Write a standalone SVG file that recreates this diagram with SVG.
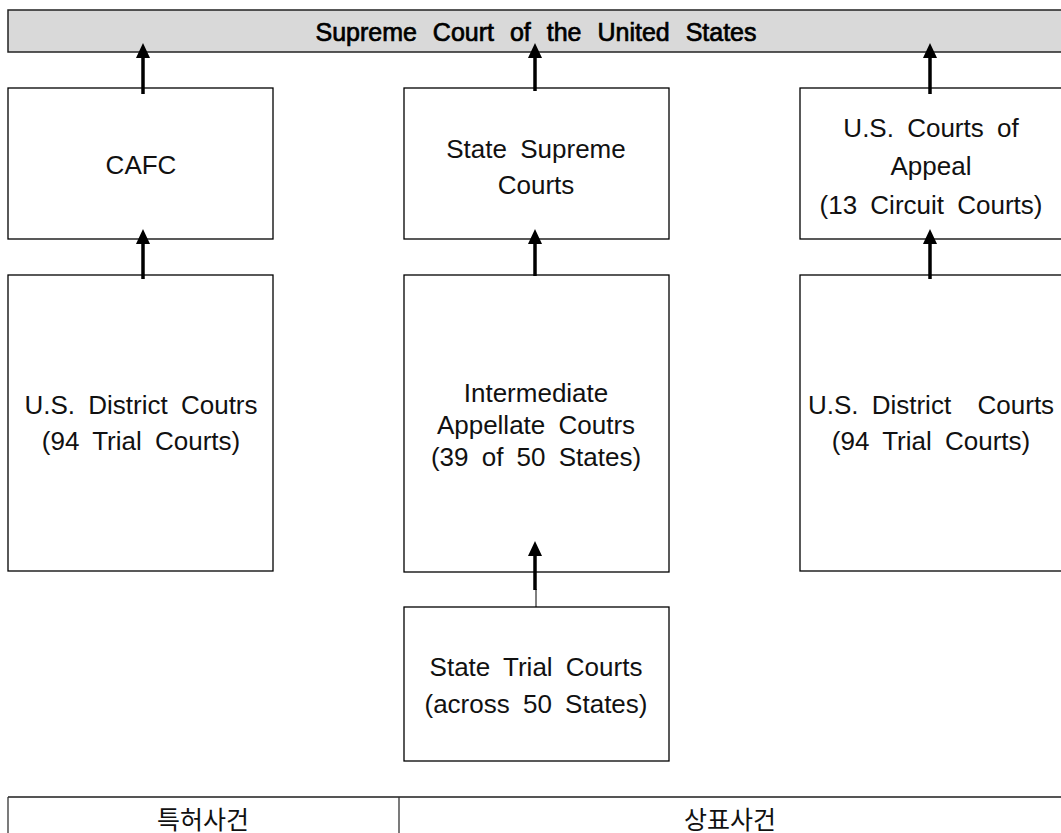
<svg xmlns="http://www.w3.org/2000/svg" width="1061" height="833" viewBox="0 0 1061 833">
<style>
.box{fill:#fff;stroke:#000;stroke-width:1.3}
.t{font-family:"Liberation Sans",Arial,sans-serif;font-size:26px;fill:#111;text-anchor:middle;word-spacing:6px}
.title{font-family:"Liberation Sans",Arial,sans-serif;font-size:25px;fill:#000;stroke:#000;stroke-width:0.7;text-anchor:middle;word-spacing:9px}
.k{font-family:"Liberation Sans","Noto Sans CJK KR",sans-serif;font-size:25px;fill:#111;text-anchor:middle}
.shaft{stroke:#000;stroke-width:3.5;fill:none}
.thin{stroke:#000;stroke-width:1;fill:none}
.head{fill:#000}
</style>
<rect width="1061" height="833" fill="#fff"/>
<g id="supreme">
<rect x="8" y="10" width="1060" height="42" fill="#d9d9d9" stroke="#222" stroke-width="1.5"/>
<text class="title" x="536" y="41">Supreme Court of the United States</text>
</g>
<g id="cafc">
<rect class="box" x="8" y="88" width="265" height="151"/>
<text class="t" x="141" y="174">CAFC</text>
</g>
<g id="district-left">
<rect class="box" x="8" y="275" width="265" height="296"/>
<text class="t" x="141" y="414">U.S. District Coutrs</text>
<text class="t" x="141" y="450">(94 Trial Courts)</text>
</g>
<g id="state-supreme">
<rect class="box" x="404" y="88" width="265" height="151"/>
<text class="t" x="536" y="158">State Supreme</text>
<text class="t" x="536" y="194">Courts</text>
</g>
<g id="intermediate">
<rect class="box" x="404" y="275" width="265" height="297"/>
<text class="t" x="536" y="402">Intermediate</text>
<text class="t" x="536" y="434">Appellate Coutrs</text>
<text class="t" x="536" y="466">(39 of 50 States)</text>
</g>
<g id="state-trial">
<rect class="box" x="404" y="607" width="265" height="154"/>
<text class="t" x="536" y="676">State Trial Courts</text>
<text class="t" x="536" y="713">(across 50 States)</text>
</g>
<g id="appeals">
<rect class="box" x="800" y="88" width="265" height="151"/>
<text class="t" x="931" y="137">U.S. Courts of</text>
<text class="t" x="931" y="175">Appeal</text>
<text class="t" x="931" y="214">(13 Circuit Courts)</text>
</g>
<g id="district-right">
<rect class="box" x="800" y="275" width="265" height="296"/>
<text class="t" x="931" y="414" xml:space="preserve">U.S. District  Courts</text>
<text class="t" x="931" y="450">(94 Trial Courts)</text>
</g>
<g id="connectors">
<line class="shaft" x1="143" y1="94" x2="143" y2="56"/>
<polygon class="head" points="143,43 136,58 150,58"/>
<line class="shaft" x1="143" y1="279" x2="143" y2="242"/>
<polygon class="head" points="143,229 136,244 150,244"/>
<line class="shaft" x1="535" y1="91" x2="535" y2="56"/>
<polygon class="head" points="535,43 528,58 542,58"/>
<line class="shaft" x1="535" y1="276" x2="535" y2="242"/>
<polygon class="head" points="535,229 528,244 542,244"/>
<line class="shaft" x1="535" y1="590" x2="535" y2="554"/>
<polygon class="head" points="535,541 528,556 542,556"/>
<line class="thin" x1="536" y1="589" x2="536" y2="607"/>
<line class="shaft" x1="930" y1="94" x2="930" y2="56"/>
<polygon class="head" points="930,43 923,58 937,58"/>
<line class="shaft" x1="930" y1="279" x2="930" y2="242"/>
<polygon class="head" points="930,229 923,244 937,244"/>
</g>
<g id="legend">
<line x1="8" y1="797" x2="1061" y2="797" stroke="#555" stroke-width="2"/>
<line x1="8" y1="797" x2="8" y2="833" stroke="#333" stroke-width="1.3"/>
<line x1="399" y1="797" x2="399" y2="833" stroke="#333" stroke-width="1.3"/>
<text class="k" x="203" y="829">특허사건</text>
<text class="k" x="730" y="829">상표사건</text>
</g>
</svg>
